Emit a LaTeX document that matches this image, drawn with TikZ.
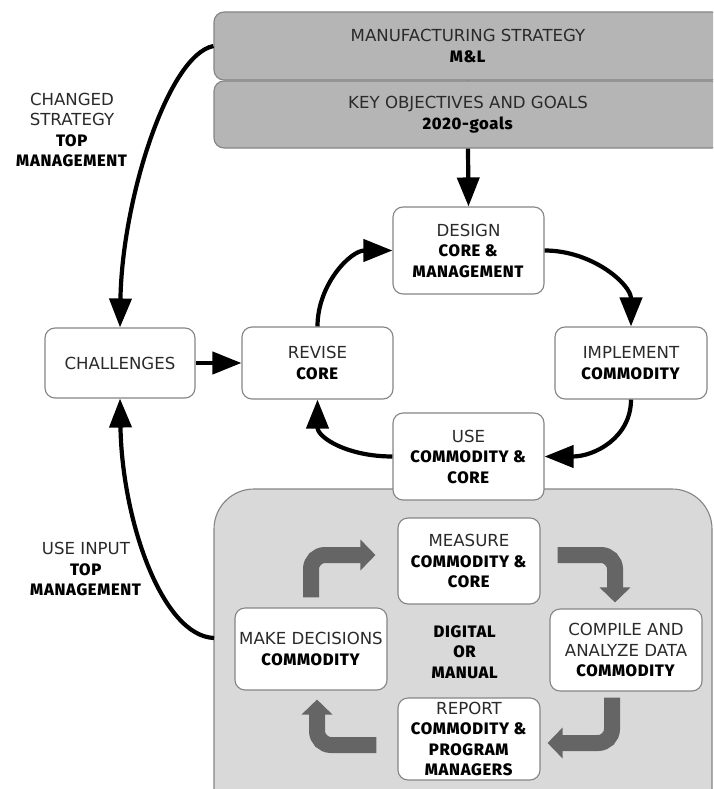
\documentclass[tikz,border=0pt]{standalone}
\usepackage{fontspec}
\setmainfont{DejaVu Sans}[BoldFont={Fira Sans ExtraBold}, BoldFeatures={LetterSpace=4}]
\usetikzlibrary{arrows.meta}
\definecolor{boxline}{HTML}{858585}
\definecolor{headfill}{HTML}{B5B5B5}
\definecolor{panelfill}{HTML}{D9D9D9}
\definecolor{fatgray}{HTML}{656565}
\definecolor{txt}{HTML}{2A2A2A}
\newcommand{\bt}[1]{\textcolor{black}{\textbf{#1}}}
\begin{document}
\begin{tikzpicture}[x=1pt,y=-1pt,
  font=\fontsize{16.6}{20.5}\selectfont, text=txt,
  card/.style={draw=boxline, line width=1.1pt, fill=white, rounded corners=10pt,
    align=center, inner sep=0pt},
  headbox/.style={draw=boxline, line width=1.1pt, fill=headfill, rounded corners=10pt,
    align=center, inner sep=0pt, minimum width=508pt, minimum height=68pt},
  flow/.style={line width=4.2pt, -{Triangle[length=29pt,width=22pt]}},
  fatarrow/.style={draw=fatgray, line width=16pt, rounded corners=14pt,
    -{Triangle[length=15pt,width=30pt]}},
  note/.style={align=center, inner sep=0pt}]
\clip (0,0) rectangle (713,789);
\fill[white] (0,0) rectangle (713,789);

% strategy headers (run off the right edge)
\node[headbox] (ms) at (468,46) {MANUFACTURING STRATEGY\\\bt{M\&L}};
\node[headbox, minimum height=67pt] (kog) at (468,114.5) {KEY OBJECTIVES AND GOALS\\\bt{2020-goals}};
\draw[boxline, line width=1pt] (ms.south) -- (kog.north);

% measurement panel
\draw[boxline, line width=1.1pt, fill=panelfill, rounded corners=40pt]
  (214,489) rectangle (712,840);
\coordinate (feed) at (214,638);

% main cycle
\node[card, minimum width=151pt, minimum height=87pt] (design) at (468.5,250.5)
  {DESIGN\\\bt{CORE \&}\\\bt{MANAGEMENT}};
\node[card, minimum width=151pt, minimum height=72pt] (revise) at (317.5,363)
  {REVISE\\\bt{CORE}};
\node[card, minimum width=152pt, minimum height=72pt] (implement) at (631,363)
  {IMPLEMENT\\\bt{COMMODITY}};
\node[card, minimum width=151pt, minimum height=87pt] (use) at (468.5,456.5)
  {USE\\\bt{COMMODITY \&}\\\bt{CORE}};
\node[card, minimum width=150pt, minimum height=70pt] (challenges) at (120,363)
  {CHALLENGES};

% measurement cycle
\node[card, minimum width=142pt, minimum height=86pt] (measure) at (469,561)
  {MEASURE\\\bt{COMMODITY \&}\\\bt{CORE}};
\node[card, minimum width=152pt, minimum height=82pt] (decide) at (311,649)
  {MAKE DECISIONS\\\bt{COMMODITY}};
\node[card, minimum width=152pt, minimum height=82pt] (compile) at (626,650)
  {COMPILE AND\\ANALYZE DATA\\\bt{COMMODITY}};
\node[card, minimum width=142pt, minimum height=82pt] (report) at (469,739)
  {REPORT\\\bt{COMMODITY \&}\\\bt{PROGRAM}\\\bt{MANAGERS}};
\node[note] (mode) at (465,652) {\bt{DIGITAL}\\\bt{OR}\\\bt{MANUAL}};

% side labels
\node[note] (lab1) at (72,130) {CHANGED\\STRATEGY\\\bt{TOP}\\\bt{MANAGEMENT}};
\node[note] (lab2) at (86,569) {USE INPUT\\\bt{TOP}\\\bt{MANAGEMENT}};

% black connectors
\draw[flow] (kog.south) -- (design.north);
\draw[flow] (challenges.east) -- (revise.west);
\draw[flow] (revise.north) .. controls +(0,-42) and +(-42,0) .. (design.west);
\draw[flow] (design.east) .. controls +(48,0) and +(0,-42) .. (implement.north);
\draw[flow] (implement.south) .. controls +(0,38) and +(50,0) .. (use.east);
\draw[flow] (use.west) .. controls +(-45,0) and +(0,38) .. (revise.south);
\draw[flow] (ms.west) .. controls (168,55) and (122,200) .. (challenges.north);
\draw[flow] (feed) .. controls (162,636) and (122,520) .. (challenges.south);

% gray cycle arrows
\draw[fatarrow, shorten <=10pt, shorten >=22pt] (decide.north) |- ([yshift=6pt]measure.west);
\draw[fatarrow, shorten <=17pt, shorten >=6pt] ([yshift=6pt]measure.east) -| ([xshift=-11pt]compile.north);
\draw[fatarrow, shorten <=6pt, shorten >=7pt] ([xshift=-14pt]compile.south) |- ([yshift=-4pt]report.east);
\draw[fatarrow, shorten <=21pt, shorten >=9pt] ([yshift=-6pt]report.west) -| ([xshift=6pt]decide.south);
\end{tikzpicture}
\end{document}
